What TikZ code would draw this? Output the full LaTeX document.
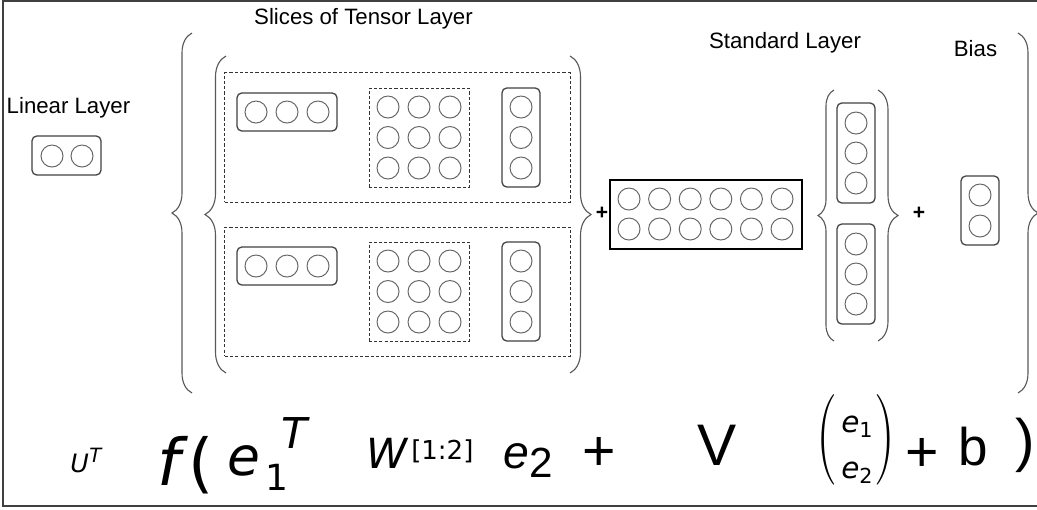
\documentclass[tikz,border=0pt]{standalone}
\usepackage{fontspec}
\setmainfont{Liberation Sans}
\newfontfamily\dejavu{DejaVu Sans}
\newfontfamily\lmroman{Latin Modern Roman}
\usetikzlibrary{decorations.pathreplacing}
\tikzset{
  unit/.style={circle, draw=black!60, line width=0.7pt, minimum size=0.55cm, inner sep=0pt},
  vecbox/.style={draw=black!75, line width=0.9pt, rounded corners=1.2mm, inner sep=0pt},
  slice/.style={draw=black!80, dash pattern=on 2.2pt off 1.5pt, line width=0.7pt, inner sep=0pt},
  weights/.style={draw, line width=0.9pt, inner sep=0pt},
  layername/.style={font=\fontsize{15.8}{18}\selectfont, inner sep=0pt, anchor=base},
  plus/.style={font=\fontsize{15}{18}\selectfont\bfseries, inner sep=0pt},
  curly/.style={draw=black!65, line width=0.8pt, decorate, decoration={brace, amplitude=0.5cm}},
  eq/.style={inner sep=0pt, anchor=base west},
  bigparen/.style={inner sep=0pt, font=\lmroman\fontsize{30}{32}\selectfont}
}

\begin{document}
\begin{tikzpicture}[x=0.025cm,y=-0.025cm]
\useasboundingbox (0,0) rectangle (1037,509);

% frame (open on the right)
\draw[black!75, line width=1pt] (1037,1) -| (3,506) -- (1037,506);

% Layer names
\node[layername] (linname) at (68.5,113) {Linear Layer};
\node[layername] (tenname) at (363.5,24) {Slices of Tensor Layer};
\node[layername] (stdname) at (785,48) {Standard Layer};
\node[layername] (biasname) at (975.5,56) {Bias};

% Linear layer
\node[vecbox, minimum width=1.725cm, minimum height=0.975cm] (linbox) at (66.5,155.5) {};
\foreach \c/\x in {1/52,2/82}
  \node[unit] (lin\c) at (\x,156) {};

% Tensor slices
\foreach \s/\dy in {1/0,2/154} {
  \node[slice, minimum width=8.625cm, minimum height=3.225cm] (slice\s) at (397.5,137.5+\dy) {};
  \node[vecbox, minimum width=2.5cm, minimum height=0.95cm] (rowbox\s) at (287,112+\dy) {};
  \node[slice, minimum width=2.5cm, minimum height=2.475cm] (wgt\s) at (419,137.5+\dy) {};
  \node[vecbox, minimum width=0.95cm, minimum height=2.475cm] (colbox\s) at (521,137.5+\dy) {};
  \foreach \c/\x in {1/256,2/287,3/318}
    \node[unit] (row\s-\c) at (\x,112+\dy) {};
  \foreach \r/\y in {1/107,2/137.5,3/168} {
    \foreach \c/\x in {1/388,2/419,3/450}
      \node[unit] (w\s-\r\c) at (\x,\y+\dy) {};
    \node[unit] (col\s-\r) at (521,\y+\dy) {};
  }
}

% Braces round the slices
\draw[curly] (192,393) -- (192,33);
\draw[curly, decoration={amplitude=0.525cm}] (226,373) -- (226,56);
\draw[curly, decoration={amplitude=0.525cm}] (570,56) -- (570,373);
\node[plus] (plusa) at (602,213) {+};

% Standard layer
\node[weights, minimum width=4.8cm, minimum height=1.725cm] (stdbox) at (706,214.5) {};
\foreach \c in {0,...,5}
  \foreach \r/\y in {1/199,2/229}
    \node[unit] (v\r-\c) at (629+30.6*\c,\y) {};

\draw[curly, decoration={amplitude=0.4cm}] (834,341) -- (834,90);
\draw[curly] (878,90) -- (878,341);
\node[vecbox, minimum width=0.95cm, minimum height=2.5cm] (upbox) at (856,153) {};
\node[vecbox, minimum width=0.95cm, minimum height=2.5cm] (lowbox) at (856,274) {};
\foreach \r/\y in {1/123,2/153,3/183}
  \node[unit] (up\r) at (856,\y) {};
\foreach \r/\y in {1/244,2/274,3/304}
  \node[unit] (low\r) at (856,\y) {};
\node[plus] (plusb) at (919,213) {+};

% Bias
\node[vecbox, minimum width=0.95cm, minimum height=1.725cm] (biasbox) at (980,210.5) {};
\foreach \r/\y in {1/195,2/226}
  \node[unit] (bias\r) at (980,\y) {};

\draw[curly] (1018,33) -- (1018,393);

% Formula
\node[eq, font=\dejavu\itshape\fontsize{18}{20}\selectfont] (fU) at (70,472) {U};
\node[eq, font=\dejavu\itshape\fontsize{14}{16}\selectfont] (fUsup) at (89,462) {T};
\node[eq, font=\dejavu\fontsize{46}{50}\selectfont] (ff) at (157,485) {\textit{f}(};
\node[eq, font=\dejavu\itshape\fontsize{38}{40}\selectfont] (fe1) at (227,475) {e};
\node[eq, font=\dejavu\fontsize{25.6}{28}\selectfont] (fe1sub) at (265,490) {1};
\node[eq, font=\dejavu\itshape\fontsize{30.2}{32}\selectfont] (fe1sup) at (281,448) {T};
\node[eq, font=\dejavu\itshape\fontsize{29.5}{32}\selectfont] (fW) at (366,468) {W};
\node[eq, font=\dejavu\fontsize{18.5}{22}\selectfont] (fWsup) at (411,459) {[1:2]};
\node[eq, font=\itshape\fontsize{33}{36}\selectfont] (fe2) at (503,468) {e};
\node[eq, font=\fontsize{30}{32}\selectfont] (fe2sub) at (529,477) {2};
\node[eq, font=\fontsize{40.7}{44}\selectfont] (fplusa) at (582,470) {+};
\node[eq, font=\fontsize{41.7}{44}\selectfont] (fV) at (697,465) {V};
\node[bigparen] (fvopen) at (827,440) {\scalebox{1.4}[2.15]{(}};
\node[eq, font=\dejavu\itshape\fontsize{21}{24}\selectfont] (fv1) at (841,432) {e\textsubscript{\upshape 1}};
\node[eq, font=\dejavu\itshape\fontsize{21}{24}\selectfont] (fv2) at (841,478) {e\textsubscript{\upshape 2}};
\node[bigparen] (fvclose) at (885,440) {\scalebox{1.4}[2.15]{)}};
\node[eq, font=\fontsize{40.7}{44}\selectfont] (fplusb) at (905,471) {+};
\node[eq, font=\fontsize{37.7}{40}\selectfont] (fb) at (958,465) {b};
\node[eq, font=\fontsize{41.6}{44}\selectfont] (fclose) at (1015,460) {)};

\end{tikzpicture}
\end{document}
